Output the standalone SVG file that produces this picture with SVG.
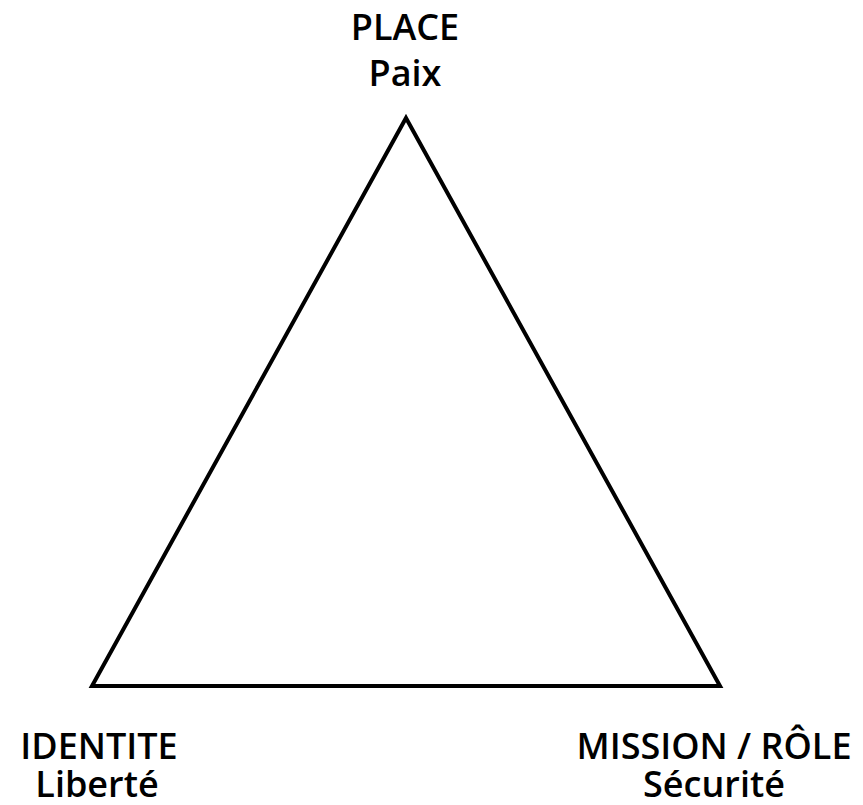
<svg xmlns="http://www.w3.org/2000/svg" width="863" height="805" viewBox="0 0 863 805">
<style>
.lbl{font-family:"Open Sans","Noto Sans","DejaVu Sans",sans-serif;font-size:36px;font-weight:600;fill:#000;text-anchor:middle}
.edge{fill:none;stroke:#000;stroke-width:4;stroke-linejoin:miter}
</style>
<rect width="863" height="805" fill="#fff"/>
<g id="connectors">
<polygon class="edge" points="406,118 720,686 92,686"/>
</g>
<g id="place">
<text class="lbl" x="405" y="40">PLACE</text>
<text class="lbl" x="405" y="86">Paix</text>
</g>
<g id="identite">
<text class="lbl" x="99" y="759">IDENTITE</text>
<text class="lbl" x="97" y="797">Liberté</text>
</g>
<g id="mission">
<text class="lbl" x="714" y="759">MISSION / RÔLE</text>
<text class="lbl" x="714" y="797">Sécurité</text>
</g>
</svg>
